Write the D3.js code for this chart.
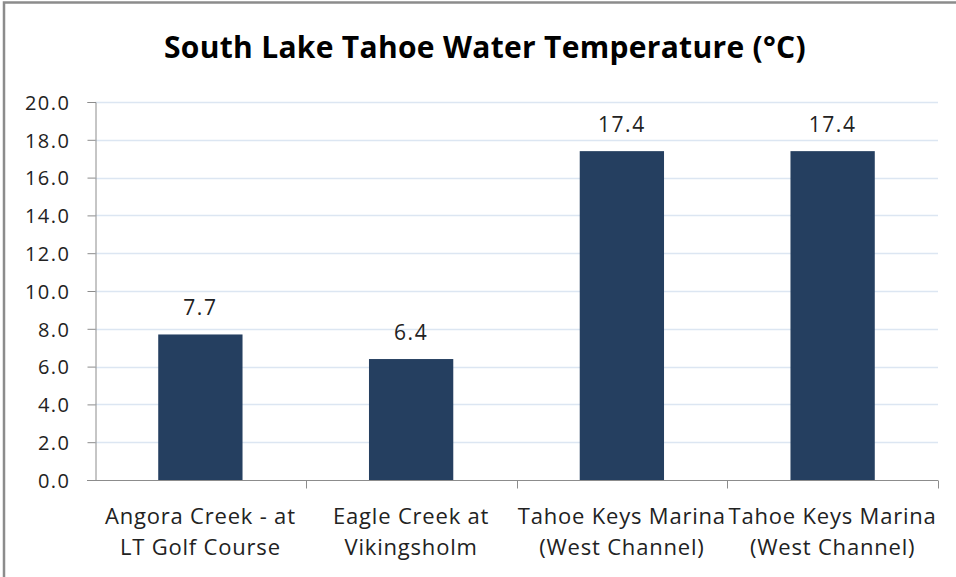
<!DOCTYPE html>
<html>
<head>
<meta charset="utf-8">
<script src="https://cdn.jsdelivr.net/npm/d3@7"></script>
<style>
  body { margin: 0; background: #fff; }
  svg { display: block; font-family: "Open Sans", sans-serif; }
</style>
</head>
<body>
<div id="chart"></div>
<script>
const title = "South Lake Tahoe Water Temperature (°C)";
const categories = [
    ["Angora Creek - at", "LT Golf Course"],
    ["Eagle Creek at", "Vikingsholm"],
    ["Tahoe Keys Marina", "(West Channel)"],
    ["Tahoe Keys Marina", "(West Channel)"]
];
const temps = [7.7, 6.4, 17.4, 17.4];
const yTicks = [0, 2, 4, 6, 8, 10, 12, 14, 16, 18, 20];

const width = 956, height = 577;
const margin = { top: 102, right: 18, bottom: 97, left: 95 };

const svg = d3.select("#chart").append("svg")
    .attr("width", width)
    .attr("height", height);

// outer chart frame
svg.append("rect")
    .attr("x", 4).attr("y", 2.5)
    .attr("width", width + 10).attr("height", height + 10)
    .attr("fill", "none")
    .attr("stroke", "#8c8c8c")
    .attr("stroke-width", 2.5);

svg.append("text")
    .attr("x", 485).attr("y", 58)
    .attr("text-anchor", "middle")
    .attr("font-size", 30)
    .attr("font-weight", "bold")
    .attr("letter-spacing", 0.3)
    .attr("fill", "#000")
    .text(title);

const idx = categories.map((d, i) => i);
const x = d3.scaleBand()
    .domain(idx)
    .range([margin.left, width - margin.right])
    .paddingInner(0.6)
    .paddingOuter(0.3);

const y = d3.scaleLinear()
    .domain([0, 20])
    .range([height - margin.bottom, margin.top]);

// gridlines
svg.append("g")
    .selectAll("line")
    .data(yTicks.filter(d => d > 0))
    .join("line")
    .attr("x1", margin.left).attr("x2", width - margin.right)
    .attr("y1", d => Math.round(y(d)) + 0.5)
    .attr("y2", d => Math.round(y(d)) + 0.5)
    .attr("stroke", "#dce6f2")
    .attr("stroke-width", 1.3);

// bars
svg.append("g")
    .selectAll("rect")
    .data(temps)
    .join("rect")
    .attr("x", (d, i) => x(i))
    .attr("y", d => y(d))
    .attr("width", x.bandwidth())
    .attr("height", d => y(0) - y(d))
    .attr("fill", "#253f60");

// value labels
svg.append("g")
    .selectAll("text")
    .data(temps)
    .join("text")
    .attr("x", (d, i) => x(i) + x.bandwidth() / 2)
    .attr("y", d => y(d) - 19)
    .attr("text-anchor", "middle")
    .attr("font-size", 21)
    .attr("letter-spacing", 1.5)
    .attr("fill", "#222")
    .text(d => d.toFixed(1));

// y axis
const yAxis = svg.append("g")
    .attr("transform", `translate(${margin.left + 0.5},0)`)
    .call(d3.axisLeft(y).tickValues(yTicks).tickFormat(d3.format(".1f")).tickSizeOuter(0).tickSize(8));
yAxis.select(".domain").attr("stroke", "#8c8c8c");
yAxis.selectAll(".tick line").attr("stroke", "#8c8c8c");
yAxis.selectAll(".tick text")
    .attr("x", -25)
    .attr("dy", "0.36em")
    .attr("font-size", 20)
    .attr("letter-spacing", 1.5)
    .attr("font-family", "'Open Sans', sans-serif")
    .attr("fill", "#222");

// x axis
const xAxis = svg.append("g")
    .attr("transform", `translate(0,${Math.round(y(0)) + 0.5})`);
xAxis.append("line")
    .attr("x1", margin.left - 8).attr("x2", width - margin.right)
    .attr("stroke", "#8c8c8c");
xAxis.selectAll("line.tk")
    .data([1, 2, 3, 4])
    .join("line")
    .attr("class", "tk")
    .attr("x1", i => Math.round(margin.left + i * (width - margin.right - margin.left) / 4) + 0.5)
    .attr("x2", i => Math.round(margin.left + i * (width - margin.right - margin.left) / 4) + 0.5)
    .attr("y1", 0).attr("y2", 8)
    .attr("stroke", "#8c8c8c");

const labels = xAxis.selectAll("text")
    .data(categories)
    .join("text")
    .attr("text-anchor", "middle")
    .attr("font-size", 22)
    .attr("letter-spacing", 0.8)
    .attr("fill", "#222");
labels.selectAll("tspan")
    .data((d, i) => d.map(s => ({ s, i })))
    .join("tspan")
    .attr("x", d => x(d.i) + x.bandwidth() / 2)
    .attr("y", (d, j) => 43 + j * 31)
    .text(d => d.s);
</script>
</body>
</html>
